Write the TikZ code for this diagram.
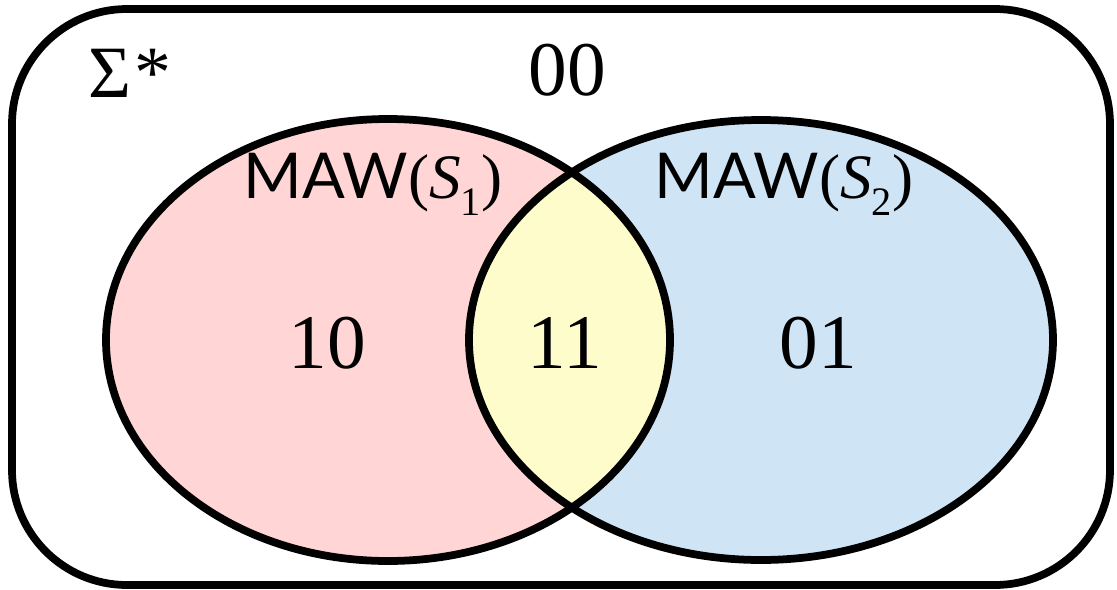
\documentclass[tikz,border=0pt]{standalone}
\usepackage{fontspec}
\setmainfont{Liberation Serif}
\newfontfamily\labelsans{Lato}

\definecolor{setpink}{RGB}{255,213,213}
\definecolor{setblue}{RGB}{207,228,245}
\definecolor{setyellow}{RGB}{255,252,204}

\tikzset{
  frame/.style={line width=0.155cm, rounded corners=2.3cm},
  setline/.style={line width=0.155cm},
  region/.style={inner sep=0pt, anchor=base, font=\fontsize{44}{44}\selectfont},
  setname/.style={inner sep=0pt, anchor=base, font=\fontsize{36}{36}\selectfont},
}

% subset label: sans-serif name with a serif italic argument
\newcommand{\mawlabel}[1]{{\labelsans MAW}(\textit{S}\raisebox{-0.28em}{\fontsize{23}{23}\selectfont #1})}

\begin{document}
\begin{tikzpicture}[x=0.02cm, y=-0.02cm]
  \useasboundingbox (0,0) rectangle (1117,589);

  % universe
  \draw[frame] (12,9) rectangle (1110,585);

  % the two sets and their overlap
  \fill[setpink] (388,340) ellipse [x radius=282, y radius=221];
  \fill[setblue] (761,340) ellipse [x radius=292, y radius=220];
  \begin{scope}
    \clip (388,340) ellipse [x radius=282, y radius=221];
    \fill[setyellow] (761,340) ellipse [x radius=292, y radius=220];
  \end{scope}
  \draw[setline] (388,340) ellipse [x radius=282, y radius=221];
  \draw[setline] (761,340) ellipse [x radius=292, y radius=220];

  % labels
  \node[inner sep=0pt, anchor=base west, font=\fontsize{42}{42}\selectfont] (sigma) at (88,97) {Σ\kern0.05em*};
  \node[region] (r00) at (567,95) {00};
  \node[setname] (s1) at (373,198) {\mawlabel{1}};
  \node[setname] (s2) at (784,198) {\mawlabel{2}};
  \node[region] (r10) at (327,368) {10};
  \node[region] (r11) at (565,368) {11};
  \node[region] (r01) at (818,368) {01};
\end{tikzpicture}
\end{document}
